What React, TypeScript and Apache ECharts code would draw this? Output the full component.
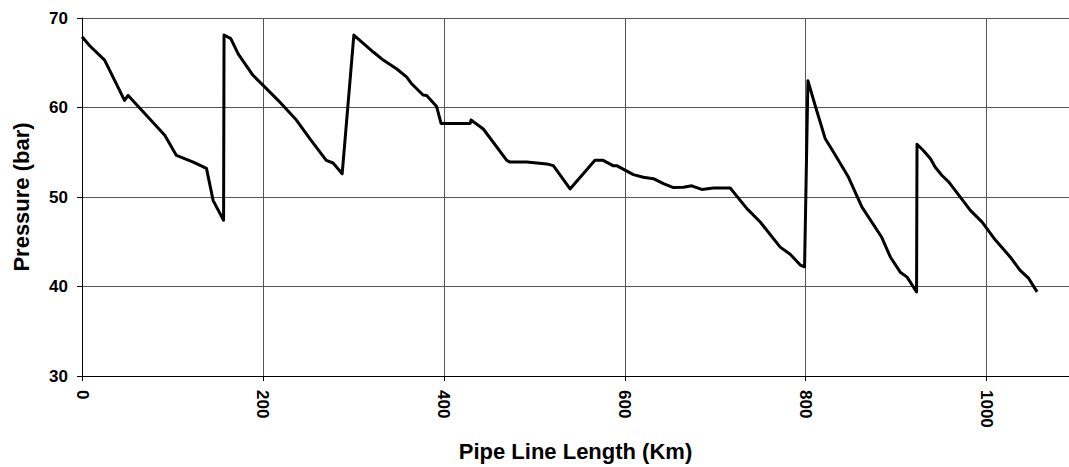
import React, { useEffect, useRef } from "react";
import * as echarts from "echarts";

const lengthKm: number[] = [
  0, 8.5, 25, 47, 51, 91.5, 104.4, 123, 137.6, 145, 156.5,
  157, 164.5, 172.6, 189, 200, 216.8, 237, 252, 270, 277.6, 287.6,
  300.5, 322, 333, 348, 359, 364.4, 377, 381, 392, 397, 429, 430, 443.6, 469.5, 473, 491.6, 513.7, 521, 539.5,
  567, 576, 587, 591, 609.5, 620.5, 631.6, 642.7, 653.8, 664.8, 674, 685, 698, 716.5, 735, 749.7, 771.8, 782.8, 794, 798.7,
  802.4, 810.5, 821.6, 830.8, 847.3, 862, 884, 893.5, 904.5, 912, 922.5,
  923, 930, 937.7, 943, 950.6, 958, 982, 995, 1008, 1026, 1037, 1046.5, 1055.7,
];

const pressureBar: number[] = [
  67.9, 66.9, 65.3, 60.8, 61.35, 56.9, 54.65, 53.9, 53.2, 49.6, 47.4,
  68.1, 67.7, 66.0, 63.6, 62.5, 60.8, 58.6, 56.5, 54.1, 53.8, 52.6,
  68.1, 66.2, 65.3, 64.3, 63.4, 62.65, 61.4, 61.35, 60.1, 58.2, 58.2, 58.6, 57.6, 54.1, 53.9, 53.9, 53.7, 53.5, 50.9,
  54.1, 54.1, 53.5, 53.5, 52.5, 52.2, 52.05, 51.5, 51.05, 51.1, 51.25, 50.85, 51.0, 51.0, 48.7, 47.2, 44.4, 43.6, 42.4, 42.2,
  63.0, 60.2, 56.5, 55.0, 52.2, 48.9, 45.5, 43.3, 41.6, 41.05, 39.4,
  55.9, 55.2, 54.3, 53.35, 52.4, 51.7, 48.5, 47.2, 45.4, 43.3, 41.8, 40.9, 39.4,
];

const xTickInterval = 200;
const yTickInterval = 10;

const FONT = "'Liberation Sans', Arial, sans-serif";

export default function App() {
  const ref = useRef<HTMLDivElement>(null);

  useEffect(() => {
    if (!ref.current) return;
    const chart = echarts.init(ref.current, undefined, { renderer: "svg" });
    const data = lengthKm.map((x, i) => [x, pressureBar[i]]);
    chart.setOption({
      animation: false,
      backgroundColor: "#ffffff",
      grid: { left: 82, top: 18, right: 0, bottom: 91, containLabel: false },
      xAxis: {
        type: "value",
        min: 0,
        max: 1091,
        interval: xTickInterval,
        name: "Pipe Line Length (Km)",
        nameLocation: "middle",
        nameGap: 64,
        nameTextStyle: { fontFamily: FONT, fontWeight: "bold", fontSize: 22, color: "#000" },
        axisLine: { show: true, lineStyle: { color: "#000", width: 1 } },
        axisTick: { show: true, length: 5, lineStyle: { color: "#000" } },
        axisLabel: {
          rotate: -90,
          margin: 14,
          showMaxLabel: false,
          fontFamily: FONT,
          fontWeight: "bold",
          fontSize: 17,
          color: "#000",
          formatter: (v: number) => (v % xTickInterval === 0 ? String(v) : ""),
        },
        splitLine: { show: true, lineStyle: { color: "#555", width: 1 } },
      },
      yAxis: {
        type: "value",
        min: 30,
        max: 70,
        interval: yTickInterval,
        name: "Pressure (bar)",
        nameLocation: "middle",
        nameGap: 50,
        nameTextStyle: { fontFamily: FONT, fontWeight: "bold", fontSize: 22, color: "#000" },
        axisLine: { show: true, lineStyle: { color: "#000", width: 1 } },
        axisTick: { show: true, length: 5, lineStyle: { color: "#000" } },
        axisLabel: {
          margin: 14,
          fontFamily: FONT,
          fontWeight: "bold",
          fontSize: 17,
          color: "#000",
        },
        splitLine: { show: true, lineStyle: { color: "#555", width: 1 } },
      },
      series: [
        {
          type: "line",
          data,
          showSymbol: false,
          symbol: "none",
          lineStyle: { color: "#000", width: 3, join: "round" },
          z: 5,
        },
      ],
    });
    return () => chart.dispose();
  }, []);

  return (
    <div
      ref={ref}
      style={{ position: "absolute", left: 0, top: 0, width: 1069, height: 467, background: "#fff" }}
    />
  );
}
